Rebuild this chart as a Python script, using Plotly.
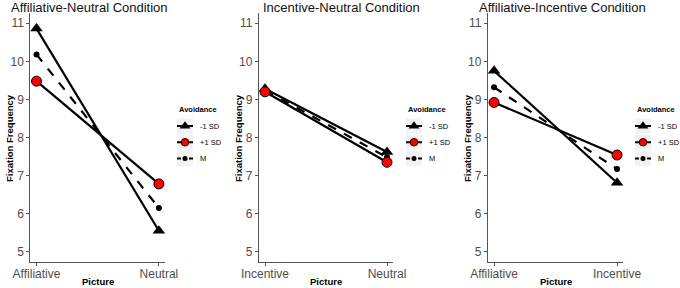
import plotly.graph_objects as go

W, H = 680, 288

# ---- data ----
titles = ["Affiliative-Neutral Condition", "Incentive-Neutral Condition", "Affiliative-Incentive Condition"]
pictures = [["Affiliative", "Neutral"], ["Incentive", "Neutral"], ["Affiliative", "Incentive"]]
series_names = ["-1 SD", "+1 SD", "M"]
minus_sd = [[10.86, 5.55], [9.28, 7.62], [9.75, 6.81]]
plus_sd = [[9.48, 6.78], [9.20, 7.35], [8.92, 7.54]]
mean_vals = [[10.18, 6.15], [9.24, 7.48], [9.32, 7.17]]
y_ticks = [5, 6, 7, 8, 9, 10, 11]

# ---- styles ----
styles = {
    "-1 SD": dict(symbol="triangle-up", size=11, color="black", dash="solid", lw=0, lsize=9.5),
    "+1 SD": dict(symbol="circle", size=10, color="red", dash="solid", lw=1, lsize=7.5),
    "M": dict(symbol="circle", size=6, color="black", dash="dash", lw=0, lsize=5),
}
draw_order = ["M", "-1 SD", "+1 SD"]
series_data = {"-1 SD": minus_sd, "+1 SD": plus_sd, "M": mean_vals}

def px(x):
    return x / W

def py(y):
    return 1 - y / H

# panel pixel geometry
panel_left = [30.4, 258.9, 487.9]
panel_right = [165.0, 393.1, 623.2]
plot_top, plot_bottom = 13, 262
title_x = [9, 261, 477]
ytitle_x = [9, 238, 467]
legend_left = [177, 406, 635]

fig = go.Figure()
layout = dict(
    width=W, height=H, margin=dict(l=0, r=0, t=0, b=0, pad=0, autoexpand=False),
    paper_bgcolor="white", plot_bgcolor="white", showlegend=False,
    font=dict(family="Liberation Sans, Arial, sans-serif"),
)
annotations = []
shapes = []

for p in range(3):
    xa = "x" if p == 0 else f"x{p+1}"
    ya = "y" if p == 0 else f"y{p+1}"
    xkey = "xaxis" if p == 0 else f"xaxis{p+1}"
    ykey = "yaxis" if p == 0 else f"yaxis{p+1}"
    for name in draw_order:
        st = styles[name]
        fig.add_trace(go.Scatter(
            x=[1, 2], y=series_data[name][p], mode="lines+markers",
            line=dict(color="black", width=2.2, dash=st["dash"]),
            marker=dict(symbol=st["symbol"], size=st["size"], color=st["color"],
                        line=dict(color="black", width=st["lw"])),
            xaxis=xa, yaxis=ya, name=name, hoverinfo="skip", cliponaxis=False,
        ))
    layout[xkey] = dict(
        domain=[px(panel_left[p]), px(panel_right[p])], range=[0.95, 2.05],
        tickmode="array", tickvals=[1, 2], ticktext=pictures[p],
        showline=True, linecolor="#555", linewidth=1.3, ticks="outside",
        ticklen=3, tickcolor="#555", showgrid=False, zeroline=False,
        tickfont=dict(size=12, color="#4d4d4d"), anchor=ya, fixedrange=True,
        automargin=False, ticklabelstandoff=-3,
    )
    layout[ykey] = dict(
        domain=[py(plot_bottom), py(plot_top)], range=[4.73, 11.27],
        tickvals=y_ticks, showline=True, linecolor="#555", linewidth=1.3,
        ticks="outside", ticklen=3, tickcolor="#555", showgrid=False,
        zeroline=False, tickfont=dict(size=12, color="#4d4d4d"), anchor=xa,
        fixedrange=True, automargin=False,
    )
    # titles
    annotations.append(dict(x=px(title_x[p]), y=py(7.5), xref="paper", yref="paper",
                            text=titles[p], showarrow=False, xanchor="left", yanchor="middle",
                            font=dict(size=13, color="#111")))
    annotations.append(dict(x=px((panel_left[p] + panel_right[p]) / 2), y=py(281.5), xref="paper",
                            yref="paper", text="<b>Picture</b>", showarrow=False,
                            xanchor="center", yanchor="middle", font=dict(size=9.5, color="black")))
    annotations.append(dict(x=px(ytitle_x[p]), y=py(138), xref="paper", yref="paper",
                            text="<b>Fixation Frequency</b>", showarrow=False, textangle=-90,
                            xanchor="center", yanchor="middle", font=dict(size=9.5, color="black")))

    # ---- manual legend ----
    lx = f"x{p+4}"
    ly = f"y{p+4}"
    layout[f"xaxis{p+4}"] = dict(domain=[px(legend_left[p]), px(legend_left[p] + 16)], range=[0, 1],
                                 visible=False, fixedrange=True, anchor=ly)
    layout[f"yaxis{p+4}"] = dict(domain=[py(166.5), py(118)], range=[3, 0],
                                 visible=False, fixedrange=True, anchor=lx)
    annotations.append(dict(x=px(legend_left[p]), y=py(109), xref="paper", yref="paper",
                            text="<b>Avoidance</b>", showarrow=False, xanchor="left",
                            yanchor="middle", font=dict(size=7.5, color="black")))
    for i, name in enumerate(series_names):
        st = styles[name]
        shapes.append(dict(type="rect", xref=lx, yref=ly, x0=0, x1=1, y0=i + 0.03, y1=i + 0.97,
                           fillcolor="#f2f2f2", line=dict(width=0), layer="below"))
        fig.add_trace(go.Scatter(
            x=[0, 1], y=[i + 0.5, i + 0.5], mode="lines",
            line=dict(color="black", width=2, dash="solid" if st["dash"] == "solid" else "4px,2px"),
            xaxis=lx, yaxis=ly, hoverinfo="skip", cliponaxis=False,
        ))
        fig.add_trace(go.Scatter(
            x=[0.5], y=[i + 0.5], mode="markers",
            marker=dict(symbol=st["symbol"], size=st["lsize"], color=st["color"],
                        line=dict(color="black", width=st["lw"])),
            xaxis=lx, yaxis=ly, hoverinfo="skip", cliponaxis=False,
        ))
        annotations.append(dict(x=px(legend_left[p] + 21), y=py(126 + 16 * i), xref="paper",
                                yref="paper", text=name, showarrow=False, xanchor="left",
                                yanchor="middle", font=dict(size=7.5, color="black")))

layout["annotations"] = annotations
layout["shapes"] = shapes
fig.update_layout(**layout)
fig.write_html("out.html", config={"displayModeBar": False},
               post_script="document.body.style.margin='0';document.body.style.overflow='hidden';")
